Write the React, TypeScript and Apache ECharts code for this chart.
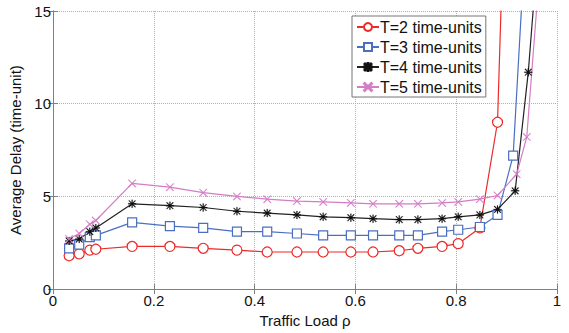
import React, { useEffect, useRef } from "react";
import * as echarts from "echarts";

const xT2 = [0.032, 0.052, 0.073, 0.085, 0.157, 0.232, 0.298, 0.365, 0.425, 0.484, 0.536, 0.591, 0.635, 0.687, 0.724, 0.772, 0.804, 0.847, 0.882, 0.917];
const yT2 = [1.8, 1.9, 2.1, 2.15, 2.3, 2.3, 2.2, 2.1, 2.0, 2.0, 2.0, 2.0, 2.0, 2.07, 2.2, 2.3, 2.45, 3.3, 9.0, 40];

const xT3 = [0.032, 0.052, 0.073, 0.085, 0.157, 0.232, 0.298, 0.365, 0.425, 0.484, 0.536, 0.591, 0.635, 0.687, 0.724, 0.772, 0.804, 0.847, 0.882, 0.913, 0.95];
const yT3 = [2.2, 2.4, 2.8, 2.9, 3.6, 3.4, 3.3, 3.1, 3.1, 3.0, 2.9, 2.9, 2.9, 2.9, 2.9, 3.1, 3.2, 3.35, 4.0, 7.2, 25];

const xT4 = [0.032, 0.052, 0.073, 0.085, 0.157, 0.232, 0.298, 0.365, 0.425, 0.484, 0.536, 0.591, 0.635, 0.687, 0.724, 0.772, 0.804, 0.847, 0.882, 0.917, 0.943, 0.97];
const yT4 = [2.6, 2.7, 3.1, 3.3, 4.6, 4.5, 4.4, 4.2, 4.1, 4.0, 3.9, 3.85, 3.8, 3.75, 3.75, 3.8, 3.9, 4.0, 4.3, 5.3, 11.7, 21];

const xT5 = [0.032, 0.052, 0.073, 0.085, 0.157, 0.232, 0.298, 0.365, 0.425, 0.484, 0.536, 0.591, 0.635, 0.687, 0.724, 0.772, 0.804, 0.847, 0.882, 0.92, 0.94, 0.965];
const yT5 = [2.7, 3.0, 3.5, 3.7, 5.7, 5.5, 5.2, 5.0, 4.85, 4.75, 4.7, 4.65, 4.6, 4.6, 4.6, 4.65, 4.7, 4.85, 5.05, 6.2, 8.2, 17];

const seriesNames = ["T=2 time-units", "T=3 time-units", "T=4 time-units", "T=5 time-units"];
const xTicks = [0, 0.2, 0.4, 0.6, 0.8, 1];
const yTicks = [0, 5, 10, 15];

const FONT = "Liberation Sans, Arial, sans-serif";

const ASTERISK =
  "path://M0,4.4 L10,4.4 L10,5.6 L0,5.6 Z M4.4,0 L5.6,0 L5.6,10 L4.4,10 Z M1.3,0.5 L9.5,8.7 L8.7,9.5 L0.5,1.3 Z M8.7,0.5 L9.5,1.3 L1.3,9.5 L0.5,8.7 Z";
const CROSS = "path://M0,0.8 L0.8,0 L10,9.2 L9.2,10 Z M9.2,0 L10,0.8 L0.8,10 L0,9.2 Z";

function pairs(xs: number[], ys: number[]) {
  return xs.map((x, i) => [x, ys[i]]);
}

export default function App() {
  const ref = useRef<HTMLDivElement>(null);
  useEffect(() => {
    if (!ref.current) return;
    const chart = echarts.init(ref.current, undefined, { renderer: "svg" });
    const axisLine = { show: true, lineStyle: { color: "#808080", width: 1 } };
    const tick = { show: true, inside: true, length: 5, lineStyle: { color: "#808080" } };
    const option: any = {
      animation: false,
      backgroundColor: "#fff",
      textStyle: { fontFamily: FONT },
      grid: { left: 53, right: 12, top: 11, bottom: 42 },
      legend: {
        left: 352,
        top: 16,
        orient: "vertical",
        itemWidth: 22,
        itemHeight: 10,
        itemGap: 4,
        padding: [3, 4, 2, 4],
        borderColor: "#777",
        borderWidth: 1,
        backgroundColor: "#fff",
        textStyle: { fontSize: 16, color: "#111", fontFamily: FONT, padding: [0, 0, 0, -4] },
        data: seriesNames,
      },
      xAxis: [
        {
          type: "value",
          min: 0,
          max: 1,
          interval: 0.2,
          name: "Traffic Load ρ",
          nameLocation: "middle",
          nameGap: 21,
          nameTextStyle: { fontSize: 15, color: "#111", fontFamily: FONT },
          axisLine,
          axisTick: tick,
          axisLabel: {
            fontSize: 15,
            color: "#111",
            margin: 4,
            fontFamily: FONT,
            formatter: (v: number) => (xTicks.includes(Number(v.toFixed(1))) ? String(Number(v.toFixed(1))) : ""),
          },
          splitLine: { show: true, lineStyle: { color: "#b0b0b0", type: [1, 1], width: 1 } },
        },
        {
          type: "value",
          position: "top",
          min: 0,
          max: 1,
          interval: 0.2,
          axisLine,
          axisTick: tick,
          axisLabel: { show: false },
          splitLine: { show: false },
        },
      ],
      yAxis: [
        {
          type: "value",
          min: 0,
          max: 15,
          interval: 5,
          name: "Average Delay (time-unit)",
          nameLocation: "middle",
          nameGap: 19,
          nameTextStyle: { fontSize: 15, color: "#111", fontFamily: FONT },
          axisLine,
          axisTick: tick,
          axisLabel: {
            fontSize: 15,
            color: "#111",
            margin: 2,
            fontFamily: FONT,
            formatter: (v: number) => (yTicks.includes(v) ? String(v) : ""),
          },
          splitLine: { show: true, lineStyle: { color: "#b0b0b0", type: [1, 1], width: 1 } },
        },
        {
          type: "value",
          position: "right",
          min: 0,
          max: 15,
          interval: 5,
          axisLine,
          axisTick: tick,
          axisLabel: { show: false },
          splitLine: { show: false },
        },
      ],
      series: [
        {
          name: seriesNames[0],
          type: "line",
          data: pairs(xT2, yT2),
          symbol: "circle",
          symbolSize: 10,
          showAllSymbol: true,
          clip: true,
          lineStyle: { color: "#ec2a2a", width: 1.2 },
          itemStyle: { color: "#fff", borderColor: "#ec2a2a", borderWidth: 1.2 },
        },
        {
          name: seriesNames[1],
          type: "line",
          data: pairs(xT3, yT3),
          symbol: "rect",
          symbolSize: 9,
          showAllSymbol: true,
          clip: true,
          lineStyle: { color: "#4a6fc0", width: 1.2 },
          itemStyle: { color: "#fff", borderColor: "#4a6fc0", borderWidth: 1.2 },
        },
        {
          name: seriesNames[2],
          type: "line",
          data: pairs(xT4, yT4),
          symbol: ASTERISK,
          symbolSize: 8,
          showAllSymbol: true,
          clip: true,
          lineStyle: { color: "#222", width: 1.2 },
          itemStyle: { color: "#111", borderColor: "#111", borderWidth: 0.2 },
        },
        {
          name: seriesNames[3],
          type: "line",
          data: pairs(xT5, yT5),
          symbol: CROSS,
          symbolSize: 8,
          showAllSymbol: true,
          clip: true,
          lineStyle: { color: "#d47cc6", width: 1.2 },
          itemStyle: { color: "#d47cc6", borderColor: "#d47cc6", borderWidth: 0.2 },
        },
      ],
    };
    chart.setOption(option);
    return () => chart.dispose();
  }, []);
  return <div ref={ref} style={{ width: 569, height: 333, position: "absolute", left: 0, top: 0 }} />;
}
